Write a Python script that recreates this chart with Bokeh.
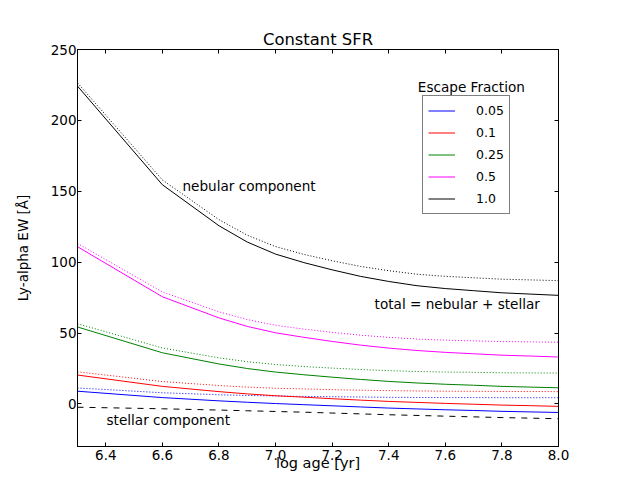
from bokeh.plotting import figure
from bokeh.models import (Range1d, FixedTicker, LinearAxis, Label, Legend, LegendItem,
                          PrintfTickFormatter, CustomJSTickFormatter)
from bokeh.embed import file_html
from bokeh.resources import INLINE

# ---- data ----
log_age = [6.3, 6.6, 6.8, 6.9, 7.0, 7.1, 7.2, 7.3, 7.4, 7.5, 7.6, 7.7, 7.8, 7.9, 8.0]

esc_labels = ["0.05", "0.1", "0.25", "0.5", "1.0"]
esc_colors = ["#0000ff", "#ff0000", "#008000", "#ff00ff", "#000000"]

# nebular component (dotted)
neb_005 = [11.3, 7.9, 6.5, 6.0, 5.6, 5.3, 5.1, 4.9, 4.7, 4.6, 4.5, 4.5, 4.4, 4.4, 4.4]
neb_010 = [22.7, 15.8, 13.0, 11.9, 11.1, 10.6, 10.1, 9.7, 9.4, 9.2, 9.0, 8.9, 8.8, 8.8, 8.7]
neb_025 = [56.6, 39.5, 32.5, 29.8, 27.8, 26.4, 25.3, 24.3, 23.5, 22.9, 22.5, 22.3, 22.0, 21.9, 21.8]
neb_050 = [113.2, 79.0, 65.0, 59.5, 55.5, 52.8, 50.5, 48.5, 47.0, 45.8, 45.0, 44.5, 44.0, 43.8, 43.5]
neb_100 = [226.5, 158.0, 130.0, 119.0, 111.0, 105.5, 101.0, 97.0, 94.0, 91.5, 90.0, 89.0, 88.0, 87.5, 87.0]

# total = nebular + stellar (solid)
tot_005 = [9.0, 4.5, 2.2, 1.2, 0.3, -0.5, -1.3, -2.1, -2.9, -3.5, -4.1, -4.6, -5.2, -5.6, -6.0]
tot_010 = [20.4, 12.4, 8.7, 7.1, 5.8, 4.8, 3.7, 2.7, 1.8, 1.1, 0.4, -0.2, -0.8, -1.2, -1.7]
tot_025 = [54.3, 36.1, 28.2, 25.0, 22.5, 20.6, 18.9, 17.3, 15.9, 14.8, 13.9, 13.2, 12.4, 11.9, 11.4]
tot_050 = [110.9, 75.6, 60.7, 54.7, 50.2, 47.0, 44.1, 41.5, 39.4, 37.7, 36.4, 35.4, 34.4, 33.8, 33.1]
tot_100 = [224.2, 154.6, 125.7, 114.2, 105.7, 99.7, 94.6, 90.0, 86.4, 83.4, 81.4, 79.9, 78.4, 77.5, 76.6]

# stellar component (dashed)
stellar = [-2.3, -3.4, -4.3, -4.8, -5.3, -5.8, -6.4, -7.0, -7.6, -8.1, -8.6, -9.1, -9.6, -10.0, -10.4]

x_ticks = [6.4, 6.6, 6.8, 7.0, 7.2, 7.4, 7.6, 7.8, 8.0]
y_ticks = [0, 50, 100, 150, 200, 250]

nebular = [neb_005, neb_010, neb_025, neb_050, neb_100]
totals = [tot_005, tot_010, tot_025, tot_050, tot_100]

FONT = "DejaVu Sans"

p = figure(width=604, height=480, output_backend="svg", toolbar_location=None,
           x_range=Range1d(6.3, 8.0), y_range=Range1d(-30, 250),
           min_border_left=77, min_border_right=46, min_border_top=49, min_border_bottom=34,
           title="Constant SFR")
p.background_fill_color = "white"
p.border_fill_color = "white"
p.outline_line_color = "black"
p.outline_line_width = 1
p.xgrid.visible = False
p.ygrid.visible = False

p.title.align = "center"
p.title.text_font = FONT
p.title.text_font_size = "16.4px"
p.title.text_font_style = "normal"
p.title.text_color = "black"
p.title.standoff = 2


def style_axis(ax, show_labels=True):
    ax.major_tick_in = 4
    ax.major_tick_out = 0
    ax.minor_tick_in = 0
    ax.minor_tick_out = 0
    ax.axis_line_color = "black"
    ax.major_tick_line_color = "black"
    ax.major_label_text_font = FONT
    ax.major_label_text_font_size = "13.5px"
    ax.major_label_text_color = "black"
    ax.axis_label_text_font = FONT
    ax.axis_label_text_font_size = "13.5px"
    ax.axis_label_text_font_style = "normal"
    ax.axis_label_text_color = "black"
    if not show_labels:
        ax.formatter = CustomJSTickFormatter(code="return '';")
        ax.major_label_standoff = 0


p.xaxis.ticker = FixedTicker(ticks=x_ticks)
p.yaxis.ticker = FixedTicker(ticks=y_ticks)
style_axis(p.xaxis[0])
style_axis(p.yaxis[0])
p.xaxis.formatter = PrintfTickFormatter(format="%.1f")
p.yaxis.formatter = PrintfTickFormatter(format="%d")
p.xaxis.major_label_standoff = 3
p.yaxis.major_label_standoff = 1
p.xaxis.axis_label = "log age [yr]"
p.xaxis.axis_label_text_font_size = "14.5px"
p.xaxis.axis_label_standoff = -8
p.yaxis.axis_label = "Ly-alpha EW [Å]"
p.yaxis.axis_label_standoff = 17

top_ax = LinearAxis(ticker=FixedTicker(ticks=x_ticks))
style_axis(top_ax, show_labels=False)
p.add_layout(top_ax, "above")
right_ax = LinearAxis(ticker=FixedTicker(ticks=y_ticks))
style_axis(right_ax, show_labels=False)
p.add_layout(right_ax, "right")

items = []
for lab, col, neb, tot in zip(esc_labels, esc_colors, nebular, totals):
    p.line(log_age, neb, line_color=col, line_width=1, line_dash="1 2")
    r = p.line(log_age, tot, line_color=col, line_width=1)
    items.append(LegendItem(label=lab, renderers=[r]))

p.line(log_age, stellar, line_color="black", line_width=1, line_dash="6 6")

legend = Legend(items=items, location=(345, 232))
legend.border_line_color = "black"
legend.border_line_width = 1
legend.background_fill_color = "white"
legend.background_fill_alpha = 1
legend.label_text_font = FONT
legend.label_text_font_size = "12.5px"
legend.label_text_color = "black"
legend.padding = 5
legend.margin = 0
legend.spacing = 3
legend.glyph_width = 27
legend.glyph_height = 19
legend.label_height = 19
legend.label_standoff = 21
p.add_layout(legend, "center")

texts = [
    ("nebular component", 6.671, 153.4, "left"),
    ("total = nebular + stellar", 7.350, 70.4, "left"),
    ("stellar component", 6.4025, -11.6, "left"),
    ("Escape Fraction", 7.692, 223.4, "center"),
]
for t, x, y, al in texts:
    p.add_layout(Label(x=x, y=y, text=t, text_font=FONT, text_font_size="13.6px",
                       text_align=al, text_baseline="middle", text_color="black"))

open("out.html", "w").write(file_html(p, INLINE))
